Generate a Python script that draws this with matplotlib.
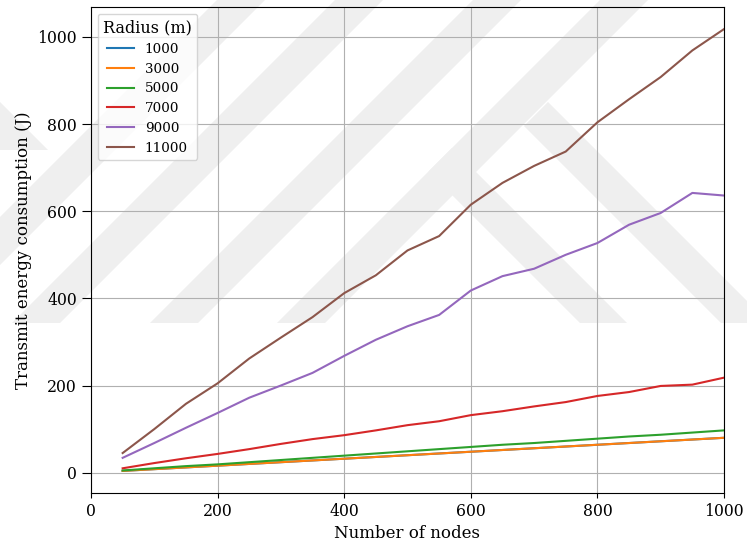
import numpy as np
import matplotlib.pyplot as plt
from matplotlib.patches import Polygon

plt.rcParams['font.family'] = ['DejaVu Serif']

# number of nodes in the network
nodes = [50, 100, 150, 200, 250, 300, 350, 400, 450, 500,
         550, 600, 650, 700, 750, 800, 850, 900, 950, 1000]

# transmit energy (J) for each sensing radius
e1000 = [4, 8, 12, 16, 20, 24, 28, 32, 36, 40, 44, 48, 52, 56, 60, 64, 68, 72, 76, 80]
e3000 = [4, 8, 12, 16, 20, 24, 28, 32, 36, 40, 44, 48, 52, 56, 60, 64, 68, 72, 76, 80]
e5000 = [5, 10, 15, 19, 24, 29, 34, 39, 44, 49, 54, 59, 64, 68, 73, 78, 83, 87, 92, 97]
e7000 = [10, 22, 33, 43, 54, 66, 77, 86, 97, 109, 118, 132, 141, 152, 162, 176, 185, 199, 202, 218]
e9000 = [34, 68, 103, 137, 172, 200, 229, 268, 305, 336, 362, 418, 451, 468, 500, 527, 569, 596, 642, 636]
e11000 = [45, 100, 158, 205, 262, 310, 357, 412, 453, 510, 543, 615, 665, 704, 737, 804, 857, 908, 969, 1018]

radii = ['1000', '3000', '5000', '7000', '9000', '11000']
series = [e1000, e3000, e5000, e7000, e9000, e11000]

W, H = 747, 546
fig = plt.figure(figsize=(W / 100, H / 100), dpi=100)
fig.patch.set_facecolor('white')


# faint watermark bands, given in pixel coords (y down)
def band(pts):
    xy = [(x / W, 1 - y / H) for x, y in pts]
    fig.add_artist(Polygon(xy, closed=True, transform=fig.transFigure,
                           facecolor='#efefef', edgecolor='none', zorder=0))


for x0 in [12, 150, 277]:
    band([(x0, 323), (x0 + 48, 323), (x0 + 48 + 333, -10), (x0 + 333, -10)])
band([(0, 217), (0, 265), (275, -10), (227, -10)])
band([(0, 102), (0, 150), (48, 150)])
band([(580, 323), (627, 323), (452, 148), (428.5, 171.5)])
band([(721, 323), (769, 323), (548, 102), (524, 126)])

ax = fig.add_axes([91 / W, 1 - 493 / H, (724 - 91) / W, (493 - 7) / H])
ax.set_facecolor('none')

for r, e in zip(radii, series):
    ax.plot(nodes, e, label=r, linewidth=1.5)

ax.set_xlim(0, 1000)
ax.grid(True)
ax.set_axisbelow(True)
ax.tick_params(labelsize=11.3)
ax.tick_params(axis='y', length=6.5)
ax.set_xlabel('Number of nodes', fontsize=12)
ax.set_ylabel('Transmit energy consumption (J)', fontsize=12)
ax.legend(title='Radius (m)', loc='upper left', fontsize=9.7, title_fontsize=11.5)

fig.savefig('out.png', dpi=100)
